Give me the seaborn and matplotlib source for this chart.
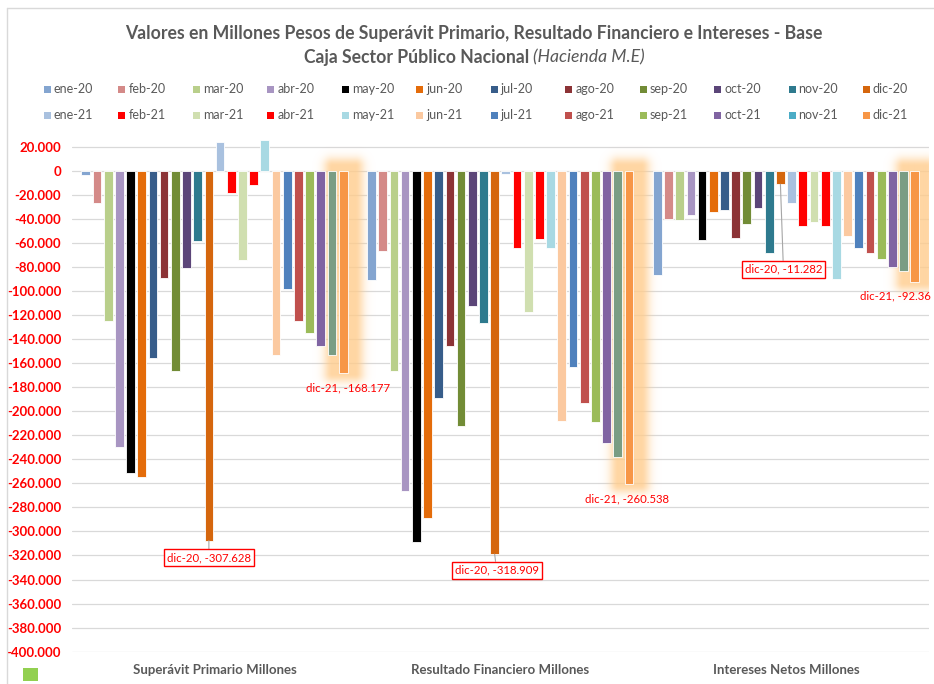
import numpy as np
import pandas as pd
import matplotlib
matplotlib.use("Agg")
import matplotlib.pyplot as plt
import seaborn as sns
from matplotlib.patches import Rectangle
from matplotlib.lines import Line2D
from matplotlib.ticker import FuncFormatter

# ---------------- data ----------------
categories = ["Superávit Primario Millones", "Resultado Financiero Millones", "Intereses Netos Millones"]
months = ["ene-20", "feb-20", "mar-20", "abr-20", "may-20", "jun-20", "jul-20", "ago-20",
          "sep-20", "oct-20", "nov-20", "dic-20",
          "ene-21", "feb-21", "mar-21", "abr-21", "may-21", "jun-21", "jul-21", "ago-21",
          "sep-21", "oct-21", "nov-21", "dic-21"]

superavit = [-3300, -27000, -124700, -229500, -251700, -254400, -155800, -89300, -166900, -81200, -58200, -307628,
             24100, -18600, -74300, -11900, 25800, -153600, -98700, -125000, -134700, -145800, -153000, -168177]
resultado = [-90900, -67100, -166300, -266400, -309000, -289000, -189000, -145800, -212000, -112800, -127000, -318909,
             -2800, -64600, -117300, -57100, -64600, -208200, -163300, -193500, -209000, -226200, -237800, -260538]
intereses = [-87000, -39900, -41300, -36900, -57400, -34700, -33000, -55700, -44600, -31000, -68500, -11282,
             -26900, -45700, -42400, -46000, -90400, -54600, -64600, -68500, -73700, -79800, -83700, -92360]

yticks = list(range(-400000, 20001, 20000))

bar_colors = ["#84A5D0", "#D48A88", "#B9CF8B", "#A895C2", "#000000", "#E46C0A", "#375D8A", "#8C3336",
              "#728C36", "#5B4578", "#2E7A8E", "#D5660D",
              "#A9C1DF", "#FF0000", "#D0DFB0", "#FF0000", "#A8D9E3", "#FBC9A0", "#4F81BD", "#C0504D",
              "#9BBB59", "#8064A2", "#7A9D84", "#F79646"]
legend_colors = bar_colors[:22] + ["#4BACC6", "#F79646"]

# ---------------- style ----------------
sns.set_style("white")
plt.rcParams['font.family'] = ['Lato', 'DejaVu Sans']
GREY = "#595959"
RED = "#FF0000"

df = pd.DataFrame({
    "categoria": np.repeat(categories, len(months)),
    "mes": months * len(categories),
    "valor": superavit + resultado + intereses,
})

W, H = 934, 684
fig = plt.figure(figsize=(W / 100, H / 100), dpi=100)


def fx(px):
    return px / W


def fy(py):
    return 1 - py / H


def label_value(v):
    s = f"{v / 1000:.3f}".rstrip("0").rstrip(".")
    return s


ax_left, ax_right, ax_top, ax_bot = 71.6, 928.9, 137.0, 651.7
ax = fig.add_axes([fx(ax_left), fy(ax_bot), (ax_right - ax_left) / W, (ax_bot - ax_top) / H])

sns.barplot(data=df, x="categoria", y="valor", hue="mes", order=categories, hue_order=months,
            palette=dict(zip(months, bar_colors)), width=0.94, gap=0.22, errorbar=None,
            legend=False, ax=ax, saturation=1, edgecolor="white", linewidth=0.6)

for p in ax.patches:
    p.set_zorder(2)

ax.set_xlim(-0.5, 2.5)
ax.set_ylim(-400000, 28000)
ax.set_yticks(yticks)
ax.yaxis.set_major_formatter(FuncFormatter(lambda v, _: f"{v:,.0f}".replace(",", ".")))
ax.grid(axis="y", color="#D9D9D9", linewidth=0.9)
ax.grid(axis="x", visible=False)
ax.set_axisbelow(True)
for s in ax.spines.values():
    s.set_visible(False)
ax.tick_params(axis="y", length=0, pad=7.5, labelcolor=RED, labelsize=9.5)
ax.tick_params(axis="x", length=0, pad=9, labelcolor=GREY, labelsize=9.5)
for lab in ax.get_yticklabels():
    lab.set_fontweight("bold")
for lab in ax.get_xticklabels():
    lab.set_fontweight("bold")
ax.set_xlabel("")
ax.set_ylabel("")

# bar geometry from the library
dic20_bars = list(ax.containers[months.index("dic-20")])
dic21_bars = list(ax.containers[months.index("dic-21")])


# ---------------- glow around dic-21 bars ----------------
def add_glow(bar):
    t = ax.transData
    x0 = bar.get_x()
    x1 = x0 + bar.get_width()
    ya = bar.get_y()
    yb = ya + bar.get_height()
    (dx0, dyb) = t.transform((x0, min(ya, yb)))
    (dx1, dyt) = t.transform((x1, max(ya, yb)))
    sigma = 9.0
    cx0, cx1 = dx0 - 7, dx1 + 7
    cy0, cy1 = dyb - 1, dyt + 4
    m = 3 * sigma
    gx0, gx1 = cx0 - m, cx1 + m
    gy0, gy1 = cy0 - m, cy1 + m
    xs = np.arange(gx0, gx1, 1.0)
    ys = np.arange(gy0, gy1, 1.0)
    X, Y = np.meshgrid(xs, ys)
    ddx = np.maximum(np.maximum(cx0 - X, 0), X - cx1)
    ddy = np.maximum(np.maximum(cy0 - Y, 0), Y - cy1)
    d = np.sqrt(ddx ** 2 + ddy ** 2)
    a = 0.8 * np.exp(-(d / sigma) ** 2)
    img = np.zeros(X.shape + (4,))
    img[..., 0] = 1.0
    img[..., 1] = 0.80
    img[..., 2] = 0.55
    img[..., 3] = a
    inv = t.inverted()
    (ex0, ey0) = inv.transform((gx0, gy0))
    (ex1, ey1) = inv.transform((gx1, gy1))
    ax.imshow(img, extent=[ex0, ex1, ey0, ey1], origin="lower", aspect="auto",
              interpolation="bilinear", zorder=1)


for b in dic21_bars:
    add_glow(b)
ax.set_xlim(-0.5, 2.5)
ax.set_ylim(-400000, 28000)

# ---------------- annotations ----------------
box = dict(boxstyle="square,pad=0.25", fc="white", ec=RED, lw=1.0)
line = dict(arrowstyle="-", color="#A6A6A6", lw=0.8, shrinkA=0, shrinkB=0)
dic20_offsets = [(0, -17), (2, -16), (3, -85)]
dic20_vals = [superavit[11], resultado[11], intereses[11]]
for b, (ox, oy), val in zip(dic20_bars, dic20_offsets, dic20_vals):
    xc = b.get_x() + b.get_width() / 2
    ax.annotate("dic-20, " + label_value(val),
                xy=(xc, val), xytext=(ox, oy), textcoords="offset pixels",
                ha="center", va="center", color=RED, fontsize=8.2, bbox=box,
                arrowprops=line, zorder=5)

dic21_offsets = [(5, -15), (-2, -15), (-19, -14)]
dic21_vals = [superavit[23], resultado[23], intereses[23]]
for b, (ox, oy), val in zip(dic21_bars, dic21_offsets, dic21_vals):
    xc = b.get_x() + b.get_width() / 2
    ax.annotate("dic-21, " + label_value(val), xy=(xc, val), xytext=(ox, oy), textcoords="offset pixels",
                ha="center", va="center", color=RED, fontsize=8.2, zorder=5,
                annotation_clip=False)

# ---------------- title ----------------
fig.text(fx(474), fy(33), "Valores en Millones Pesos de Superávit Primario, Resultado Financiero e Intereses - Base",
         ha="center", va="center", fontsize=12.7, fontweight="bold", color=GREY)
fig.text(fx(529), fy(57), "Caja Sector Público Nacional", ha="right", va="center",
         fontsize=12.7, fontweight="bold", color=GREY)
fig.text(fx(533), fy(57), "(Hacienda M.E)", ha="left", va="center",
         fontsize=12.7, fontstyle="italic", color=GREY)

# ---------------- legend (two rows, equal spacing) ----------------
for i, (m, c) in enumerate(zip(months, legend_colors)):
    col = i % 12
    row = i // 12
    x = 44 + col * 74.45
    y = 89 if row == 0 else 115
    fig.add_artist(Rectangle((fx(x), fy(y + 3.5)), 7 / W, 7 / H, transform=fig.transFigure,
                             facecolor=c, edgecolor="none"))
    fig.text(fx(x + 10), fy(y), m, ha="left", va="center", fontsize=9, color=GREY)

# ---------------- frame and corner artefact ----------------
fig.add_artist(Line2D([fx(6.5), 1.0], [fy(8), fy(8)], transform=fig.transFigure, color="#D9D9D9", lw=1))
fig.add_artist(Line2D([fx(6.5), fx(6.5)], [fy(8), 0.0], transform=fig.transFigure, color="#D9D9D9", lw=1))
fig.add_artist(Rectangle((fx(22.7), fy(681)), 15 / W, 13.3 / H, transform=fig.transFigure,
                         facecolor="#92D050", edgecolor="none"))

fig.savefig("out.png", dpi=100, facecolor="white")
